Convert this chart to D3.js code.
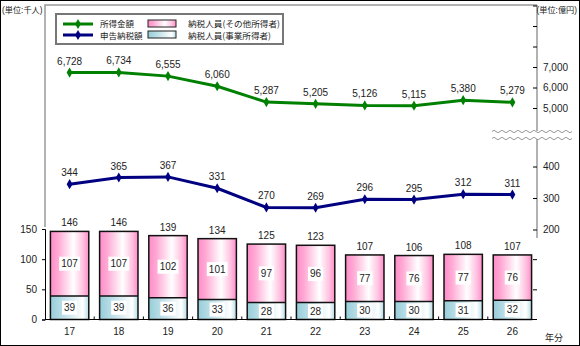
<!DOCTYPE html>
<html><head><meta charset="utf-8">
<script src="https://cdn.jsdelivr.net/npm/d3@7/dist/d3.min.js"></script>
<style>
html,body{margin:0;padding:0;background:#fff;}
svg{display:block;}
text{font-family:"Liberation Sans",Arial,sans-serif;font-size:10px;fill:#222;}
.jp{font-family:"Noto Sans CJK JP",sans-serif;font-size:9px;}
.unit{font-family:"Liberation Sans","Noto Sans CJK JP",sans-serif;font-size:8.2px;}
</style></head>
<body>
<script>
const years = ["17","18","19","20","21","22","23","24","25","26"];
const income = [6728,6734,6555,6060,5287,5205,5126,5115,5380,5279];
const taxDeclared = [344,365,367,331,270,269,296,295,312,311];
const otherPayers = [107,107,102,101,97,96,77,76,77,76];
const businessPayers = [39,39,36,33,28,28,30,30,31,32];
const payerTotals = [146,146,139,134,125,123,107,106,108,107];
const leftTicks = [0,50,100,150];
const rightUpperTicks = [5000,6000,7000,8000,9000,10000];
const rightUpperLabeled = [5000,6000,7000];
const rightLowerTicks = [200,300,400];

const W=580,H=346;
const svg=d3.select("body").append("svg").attr("width",W).attr("height",H);
const defs=svg.append("defs");
const gp=defs.append("linearGradient").attr("id","gPink").attr("x1","0").attr("x2","1").attr("y1","0").attr("y2","0");
[[0,"#ff8cc8"],[0.2,"#ffa9d4"],[0.6,"#ffffff"],[0.85,"#ffc2e0"],[1,"#ff8cc8"]].forEach(s=>gp.append("stop").attr("offset",s[0]).attr("stop-color",s[1]));
const gb=defs.append("linearGradient").attr("id","gBlue").attr("x1","0").attr("x2","1").attr("y1","0").attr("y2","0");
[[0,"#96cdd9"],[0.35,"#bfe0e8"],[0.85,"#ffffff"],[1,"#b5dce6"]].forEach(s=>gb.append("stop").attr("offset",s[0]).attr("stop-color",s[1]));

// outer border
svg.append("rect").attr("x",0.5).attr("y",0.5).attr("width",W-1).attr("height",H-1).attr("fill","none").attr("stroke","#000");

const L=45,R=537,T=5,B=319.5;
const x=d3.scaleBand().domain(years).range([L,R]).paddingInner(0.22).paddingOuter(0.11);
const yBar=d3.scaleLinear().domain([0,150]).range([B,229]);
const yUp=d3.scaleLinear().domain([5000,7000]).range([108,67]);
const yLow=d3.scaleLinear().domain([200,400]).range([229.5,166.5]);
const cx=d=>x(d)+x.bandwidth()/2;

// plot box top & left (gray)
svg.append("path").attr("d",`M${L},${yBar(150)-2}V${T}H${R}`).attr("fill","none").attr("stroke","#999").attr("stroke-width",1.5);

// bars
const bars=svg.append("g");
years.forEach((yr,i)=>{
  const b=businessPayers[i], o=otherPayers[i], t=payerTotals[i];
  const xb=x(yr), bw=x.bandwidth();
  bars.append("rect").attr("x",xb).attr("y",yBar(t)).attr("width",bw).attr("height",yBar(b)-yBar(t)).attr("fill","url(#gPink)");
  bars.append("rect").attr("x",xb).attr("y",yBar(b)).attr("width",bw).attr("height",yBar(0)-yBar(b)).attr("fill","url(#gBlue)");
  bars.append("rect").attr("x",xb).attr("y",yBar(t)).attr("width",bw).attr("height",yBar(0)-yBar(t)).attr("fill","none").attr("stroke","#111").attr("stroke-width",1.5);
  bars.append("line").attr("x1",xb).attr("x2",xb+bw).attr("y1",yBar(b)).attr("y2",yBar(b)).attr("stroke","#111").attr("stroke-width",1.5);
  const lab=(txt,yc)=>{
    const w=txt.length*5.6+4;
    bars.append("rect").attr("x",cx(yr)-w/2).attr("y",yc-7).attr("width",w).attr("height",14).attr("fill","#fff");
    bars.append("text").attr("x",cx(yr)).attr("y",yc+3.5).attr("text-anchor","middle").text(txt);
  };
  lab(String(o),(yBar(t)+yBar(b))/2);
  lab(String(b),(yBar(b)+yBar(0))/2);
  bars.append("text").attr("x",cx(yr)).attr("y",yBar(t)-5).attr("text-anchor","middle").text(t);
});

// left axis
const la=svg.append("g").attr("transform",`translate(${L},0)`)
  .call(d3.axisLeft(yBar).tickValues(leftTicks).tickSize(3).tickPadding(5));
la.select(".domain").attr("stroke","#000");
la.selectAll("text").style("font-size","10px").attr("fill","#222");

// x axis
svg.append("line").attr("x1",L).attr("x2",R).attr("y1",B).attr("y2",B).attr("stroke","#000").attr("stroke-width",1.2);
years.slice(1).forEach(yr=>{
  const xx=x(yr)-x.step()*x.paddingInner()/2;
  svg.append("line").attr("x1",xx).attr("x2",xx).attr("y1",B).attr("y2",B-3).attr("stroke","#000");
});
years.forEach(yr=>svg.append("text").attr("x",cx(yr)).attr("y",335).attr("text-anchor","middle").text(yr));
svg.append("text").attr("class","jp").attr("x",545).attr("y",341).text("年分");

// right axis
svg.append("line").attr("x1",R).attr("x2",R).attr("y1",T).attr("y2",238).attr("stroke","#999").attr("stroke-width",1.5);
const ra=svg.append("g").attr("transform",`translate(${R},0)`)
  .call(d3.axisLeft(yUp).tickValues(rightUpperTicks).tickSize(4).tickFormat(""));
ra.select(".domain").remove();
rightUpperLabeled.forEach(v=>svg.append("text").attr("x",R+6).attr("y",yUp(v)+3.5).text(d3.format(",")(v)));
const rb=svg.append("g").attr("transform",`translate(${R},0)`)
  .call(d3.axisLeft(yLow).tickValues(rightLowerTicks).tickSize(4).tickFormat(""));
rb.select(".domain").remove();
rightLowerTicks.forEach(v=>svg.append("text").attr("x",R+6).attr("y",yLow(v)+3.5).text(v));
const rc=svg.append("g").attr("transform",`translate(${R},0)`)
  .call(d3.axisLeft(yBar).tickValues([50,100]).tickSize(4).tickFormat(""));
rc.select(".domain").remove();

// break wave
const wave=(y0)=>{let p=`M492,${y0}`;for(let xx=492;xx<568;xx+=8){p+=`q2,-2.5 4,0 t4,0`;}return p;};
svg.append("rect").attr("x",490).attr("y",131).attr("width",80).attr("height",8).attr("fill","#fff");
svg.append("path").attr("d",wave(131.5)).attr("fill","none").attr("stroke","#999").attr("stroke-width",1);
svg.append("path").attr("d",wave(138.5)).attr("fill","none").attr("stroke","#999").attr("stroke-width",1);

// lines
const diamond=d3.symbol().type(d3.symbolDiamond).size(30);
function series(vals,ys,color){
  const line=d3.line().x((d,i)=>cx(years[i])).y(d=>ys(d));
  svg.append("path").datum(vals).attr("d",line).attr("fill","none").attr("stroke",color).attr("stroke-width",3);
  vals.forEach((v,i)=>{
    svg.append("path").attr("d",diamond).attr("transform",`translate(${cx(years[i])},${ys(v)})`).attr("fill",color);
    svg.append("text").attr("x",cx(years[i])).attr("y",ys(v)-8).attr("text-anchor","middle").text(d3.format(",")(v));
  });
}
series(income,yUp,"#008000");
series(taxDeclared,yLow,"#000080");

// unit labels
svg.append("text").attr("class","unit").attr("x",2).attr("y",12.5).text("(単位:千人)");
svg.append("text").attr("class","unit").attr("x",577).attr("y",12.5).attr("text-anchor","end").text("(単位:億円)");

// legend
const lg=svg.append("g");
lg.append("rect").attr("x",56).attr("y",14).attr("width",227).attr("height",30).attr("fill","#fff").attr("stroke","#777").attr("stroke-width",2);
lg.append("line").attr("x1",63).attr("x2",93).attr("y1",24).attr("y2",24).attr("stroke","#008000").attr("stroke-width",3);
lg.append("path").attr("d",diamond).attr("transform","translate(78,24)").attr("fill","#008000");
lg.append("line").attr("x1",63).attr("x2",93).attr("y1",35).attr("y2",35).attr("stroke","#000080").attr("stroke-width",3);
lg.append("path").attr("d",diamond).attr("transform","translate(78,35)").attr("fill","#000080");
lg.append("text").attr("class","jp").attr("x",100).attr("y",27).style("font-size","8.5px").text("所得金額");
lg.append("text").attr("class","jp").attr("x",100).attr("y",39).style("font-size","8.5px").text("申告納税額");
lg.append("rect").attr("x",148).attr("y",20).attr("width",28).attr("height",7).attr("fill","url(#gPink)").attr("stroke","#222");
lg.append("rect").attr("x",148).attr("y",31).attr("width",28).attr("height",7).attr("fill","url(#gBlue)").attr("stroke","#222");
lg.append("text").attr("class","jp").attr("x",188).attr("y",27).style("font-size","8.5px").attr("textLength",92).attr("lengthAdjust","spacingAndGlyphs").text("納税人員(その他所得者)");
lg.append("text").attr("class","jp").attr("x",188).attr("y",39).style("font-size","8.5px").attr("textLength",83).attr("lengthAdjust","spacingAndGlyphs").text("納税人員(事業所得者)");
</script>
</body></html>
